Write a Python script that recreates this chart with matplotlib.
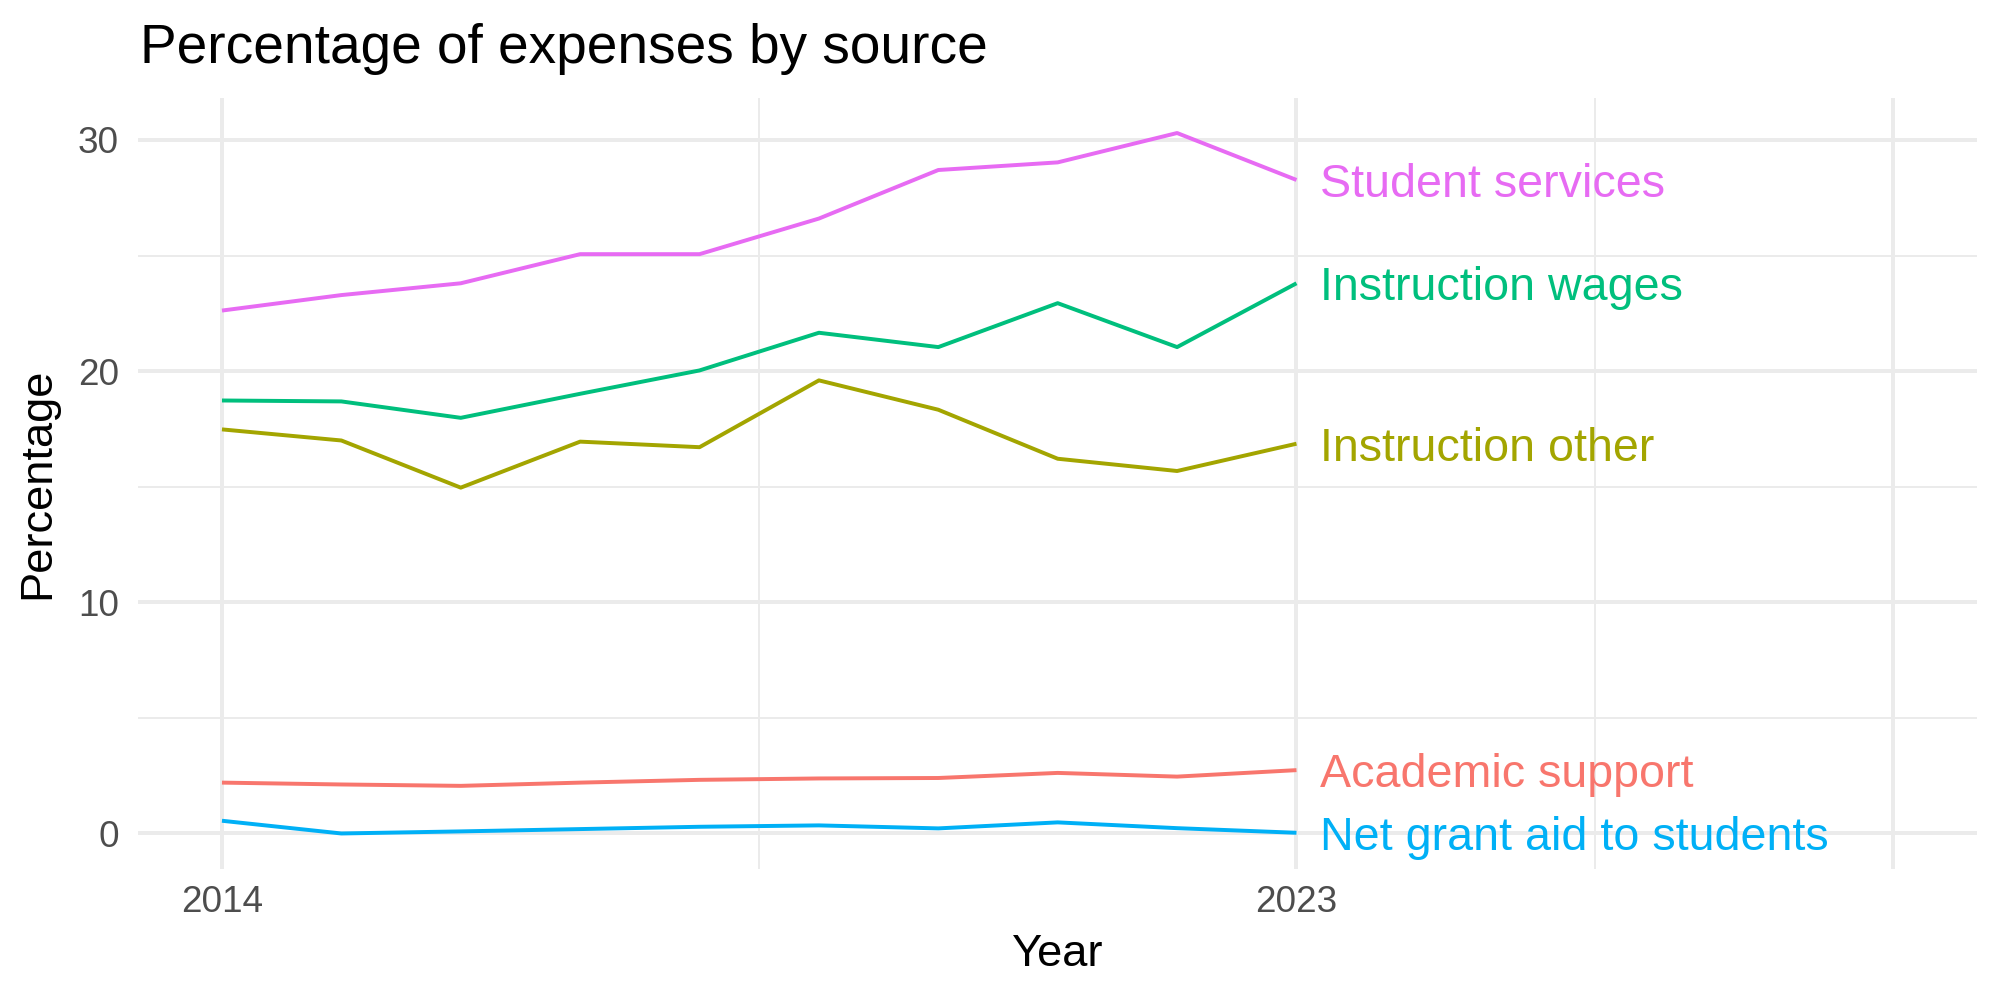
import numpy as np
import matplotlib.pyplot as plt

plt.rcParams['font.family'] = ['Liberation Sans', 'DejaVu Sans']

years = [2014, 2015, 2016, 2017, 2018, 2019, 2020, 2021, 2022, 2023]

academic_support = [2.20, 2.12, 2.06, 2.20, 2.32, 2.38, 2.40, 2.62, 2.46, 2.74]
instruction_other = [17.48, 17.00, 14.96, 16.95, 16.71, 19.60, 18.33, 16.21, 15.68, 16.86]
instruction_wages = [18.73, 18.69, 17.98, 19.02, 20.03, 21.66, 21.04, 22.94, 21.04, 23.80]
net_grant_aid = [0.55, 0.00, 0.09, 0.19, 0.29, 0.35, 0.22, 0.48, 0.23, 0.03]
student_services = [22.62, 23.29, 23.80, 25.06, 25.06, 26.60, 28.70, 29.03, 30.30, 28.27]

sources = ['Academic support', 'Instruction other', 'Instruction wages',
           'Net grant aid to students', 'Student services']
series = [academic_support, instruction_other, instruction_wages,
          net_grant_aid, student_services]
colors = ['#F8766D', '#A3A500', '#00BF7D', '#00B0F6', '#E76BF3']

x_breaks = [2014, 2023, 2028]
x_labels = ['2014', '2023', '']
x_minor = [2018.5, 2025.5]
y_breaks = [0, 10, 20, 30]
y_minor = [5, 15, 25]

fig = plt.figure(figsize=(10, 5), dpi=200)
ax = fig.add_axes([0.0692, 0.1315, 0.9193, 0.7705])

grid = '#EBEBEB'
for v in x_breaks:
    ax.axvline(v, color=grid, lw=1.42, zorder=1)
for v in x_minor:
    ax.axvline(v, color=grid, lw=0.71, zorder=1)
for v in y_breaks:
    ax.axhline(v, color=grid, lw=1.42, zorder=1)
for v in y_minor:
    ax.axhline(v, color=grid, lw=0.71, zorder=1)

lab_size = 16.8
for name, vals, c in zip(sources, series, colors):
    ax.plot(years, vals, color=c, lw=1.42, zorder=3, solid_capstyle='butt')
    # label at last point, nudged right, centred on cap height
    ax.annotate(name, (years[-1] + 0.2, vals[-1]),
                xytext=(0, -0.36 * lab_size),
                textcoords='offset points', ha='left', va='baseline',
                color=c, fontsize=lab_size)

ax.set_xlim(2013.3, 2028.7)
ax.set_ylim(-1.515, 31.815)
ax.set_xticks(x_breaks)
ax.set_xticklabels(x_labels)
ax.set_yticks(y_breaks)
ax.tick_params(length=0, labelsize=13.3, labelcolor='#4D4D4D')
ax.tick_params(axis='x', pad=6)
ax.tick_params(axis='y', pad=7)
for s in ax.spines.values():
    s.set_visible(False)

ax.set_xlabel('Year', fontsize=16.3, labelpad=5)
ax.set_ylabel('Percentage', fontsize=16.3, labelpad=7)
fig.text(0.07, 0.937, 'Percentage of expenses by source', fontsize=19.8,
         ha='left', va='baseline')

fig.savefig('out.png', dpi=200, facecolor='white')
